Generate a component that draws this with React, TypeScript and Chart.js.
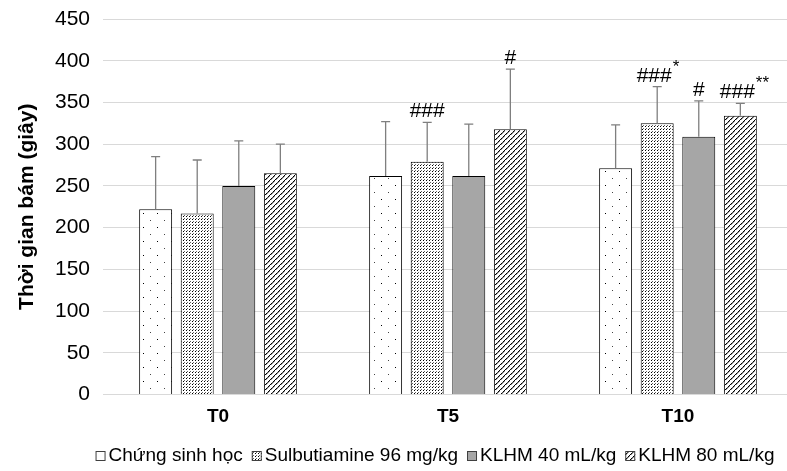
import React, { useEffect, useRef } from "react";
import { Chart, registerables } from "chart.js";
Chart.register(...registerables);

const categories = ["T0", "T5", "T10"];
const seriesNames = ["Chứng sinh học", "Sulbutiamine 96 mg/kg", "KLHM 40 mL/kg", "KLHM 80 mL/kg"];
const controlValues = [222, 262, 271];
const controlErrors = [63, 65, 52];
const sulbuValues = [217, 279, 325];
const sulbuErrors = [64, 47, 44];
const klhm40Values = [250, 262, 309];
const klhm40Errors = [54, 62, 43];
const klhm80Values = [265, 318, 334];
const klhm80Errors = [35, 72, 15];
const controlMarks = ["", "", ""];
const controlStars = ["", "", ""];
const sulbuMarks = ["", "###", "###"];
const sulbuStars = ["", "", "*"];
const klhm40Marks = ["", "", "#"];
const klhm40Stars = ["", "", ""];
const klhm80Marks = ["", "#", "###"];
const klhm80Stars = ["", "", "**"];
const yTicks = [0, 50, 100, 150, 200, 250, 300, 350, 400, 450];

const FONT = "'Liberation Sans', Arial, sans-serif";

function makePattern(kind: string): CanvasPattern | string {
  const c = document.createElement("canvas");
  const ctx = c.getContext("2d")!;
  if (kind === "sparse") {
    c.width = 14; c.height = 14;
    ctx.fillStyle = "#fff"; ctx.fillRect(0, 0, 14, 14);
    ctx.fillStyle = "#000";
    ctx.fillRect(3, 3, 1, 1);
    ctx.fillStyle = "#444";
    ctx.fillRect(10, 10, 1, 1);
  } else if (kind === "dense") {
    c.width = 3; c.height = 3;
    ctx.fillStyle = "#fff"; ctx.fillRect(0, 0, 3, 3);
    ctx.fillStyle = "#000";
    ctx.fillRect(0, 0, 1, 1);
    ctx.fillStyle = "#666";
    ctx.fillRect(1, 2, 1, 1);
  } else if (kind === "diag") {
    c.width = 5; c.height = 5;
    ctx.fillStyle = "#fff"; ctx.fillRect(0, 0, 5, 5);
    ctx.fillStyle = "#000";
    for (let i = 0; i < 5; i++) {
      if (i !== 2) ctx.fillRect(i, 4 - i, 1, 1);
    }
    ctx.fillStyle = "#444";
    ctx.fillRect(2, 2, 1, 1);
    ctx.fillStyle = "#999";
    for (let i = 0; i < 4; i++) ctx.fillRect(i + 1, 4 - i, 1, 1);
  } else {
    return "#a6a6a6";
  }
  return ctx.createPattern(c, "repeat")!;
}

export default function App() {
  const ref = useRef<HTMLCanvasElement>(null);
  useEffect(() => {
    const fills = [makePattern("sparse"), makePattern("dense"), makePattern("solid"), makePattern("diag")];
    const values = [controlValues, sulbuValues, klhm40Values, klhm80Values];
    const errors = [controlErrors, sulbuErrors, klhm40Errors, klhm80Errors];
    const marks = [controlMarks, sulbuMarks, klhm40Marks, klhm80Marks];
    const stars = [controlStars, sulbuStars, klhm40Stars, klhm80Stars];

    const errPlugin = {
      id: "errbars",
      afterDatasetsDraw(chart: any) {
        const ctx = chart.ctx;
        const y = chart.scales.y;
        ctx.save();
        chart.data.datasets.forEach((ds: any, di: number) => {
          const meta = chart.getDatasetMeta(di);
          meta.data.forEach((bar: any, i: number) => {
            const v = values[di][i];
            const e = errors[di][i];
            const x = bar.x;
            const yTop = y.getPixelForValue(v + e);
            const yBar = y.getPixelForValue(v);
            ctx.strokeStyle = "#7f7f7f";
            ctx.lineWidth = 1.3;
            ctx.beginPath();
            ctx.moveTo(x, yBar);
            ctx.lineTo(x, yTop);
            ctx.moveTo(x - 4.5, yTop);
            ctx.lineTo(x + 4.5, yTop);
            ctx.stroke();
            const m = marks[di][i];
            const s = stars[di][i];
            if (m) {
              ctx.fillStyle = "#000";
              ctx.font = `21px ${FONT}`;
              ctx.textAlign = "center";
              ctx.textBaseline = "alphabetic";
              const w = ctx.measureText(m).width;
              const tx = x - (s ? 3 : 0);
              ctx.fillText(m, tx, yTop - 5);
              if (s) {
                ctx.font = `17px ${FONT}`;
                ctx.textAlign = "left";
                ctx.fillText(s, tx + w / 2 + 1, yTop - 15);
              }
            }
          });
        });
        ctx.restore();
      },
    };

    const legendPlugin = {
      id: "customLegend",
      afterDraw(chart: any) {
        const ctx = chart.ctx;
        ctx.save();
        ctx.font = `19px ${FONT}`;
        ctx.textBaseline = "middle";
        ctx.textAlign = "left";
        const box = 10, gapBox = 3, gapItem = 9;
        const widths = seriesNames.map((n) => ctx.measureText(n).width);
        const total = widths.reduce((a, b) => a + b, 0) + seriesNames.length * (box + gapBox) + (seriesNames.length - 1) * gapItem;
        let x = 435 - total / 2;
        const yc = 456;
        seriesNames.forEach((n, i) => {
          ctx.fillStyle = fills[i] as any;
          ctx.fillRect(x, yc - box / 2, box, box);
          ctx.strokeStyle = "#404040";
          ctx.lineWidth = 1;
          ctx.strokeRect(x + 0.5, yc - box / 2 + 0.5, box - 1, box - 1);
          x += box + gapBox;
          ctx.fillStyle = "#000";
          ctx.fillText(n, x, yc);
          x += widths[i] + gapItem;
        });
        ctx.restore();
      },
    };

    const chart = new Chart(ref.current!, {
      type: "bar",
      data: {
        datasets: seriesNames.map((name, i) => ({
          label: name,
          data: values[i].map((v, k) => ({ x: k, y: v })),
          backgroundColor: fills[i] as any,
          borderColor: "#000",
          borderWidth: 1,
          borderSkipped: "bottom",
          categoryPercentage: 0.723,
          barPercentage: 0.793,
        })),
      },
      options: {
        animation: false,
        responsive: false,
        maintainAspectRatio: false,
        layout: { padding: { top: 19, right: 0, left: 0, bottom: 0 } },
        plugins: {
          legend: { display: false },
          tooltip: { enabled: false },
        },
        scales: {
          x: {
            type: "linear",
            offset: false,
            min: -0.5,
            max: 2.474,
            afterBuildTicks: (axis: any) => {
              axis.ticks = categories.map((_, k) => ({ value: k }));
            },
            afterFit: (axis: any) => {
              axis.height = 76.5;
              axis.paddingLeft = 0;
              axis.paddingRight = 0;
            },
            grid: { display: false, drawTicks: false },
            border: { display: false },
            ticks: {
              color: "#000",
              font: { family: FONT, size: 19, weight: "bold" },
              padding: 11,
              autoSkip: false,
              maxRotation: 0,
              callback: (v: any) => categories[v] ?? "",
            },
          },
          y: {
            min: 0,
            max: 450,
            afterBuildTicks: (axis: any) => {
              axis.ticks = yTicks.map((v) => ({ value: v }));
            },
            afterFit: (axis: any) => {
              axis.width = 103;
              axis.paddingTop = 0;
              axis.paddingBottom = 0;
            },
            grid: { color: "#d9d9d9", drawTicks: false, lineWidth: 1 },
            border: { display: false },
            ticks: { color: "#000", font: { family: FONT, size: 21 }, padding: 13 },
            title: {
              display: true,
              text: "Thời gian bám (giây)",
              color: "#000",
              font: { family: FONT, size: 21, weight: "bold" },
              padding: { top: 15, bottom: 0 },
            },
          },
        },
      },
      plugins: [errPlugin, legendPlugin],
    });
    return () => chart.destroy();
  }, []);
  return (
    <div style={{ position: "absolute", left: 0, top: 0, width: 787, height: 471, background: "#fff" }}>
      <canvas ref={ref} width={787} height={471} style={{ width: 787, height: 471, display: "block" }} />
    </div>
  );
}
